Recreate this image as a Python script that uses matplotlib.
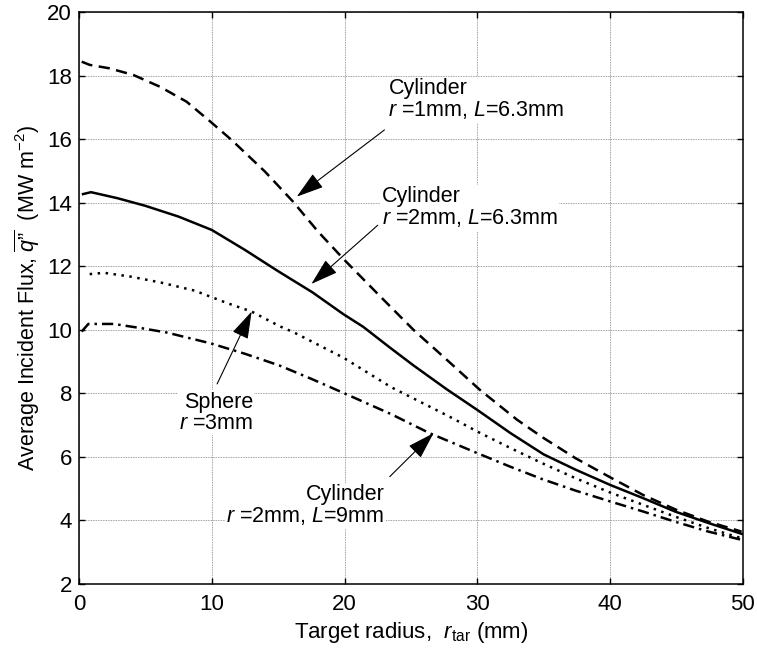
import matplotlib
matplotlib.use("Agg")
import matplotlib.pyplot as plt

# Average incident flux vs target radius for the different source geometries
plt.rcParams['font.family'] = ['Liberation Sans', 'DejaVu Sans']
plt.rcParams['mathtext.fontset'] = 'custom'
plt.rcParams['mathtext.rm'] = 'Liberation Sans'
plt.rcParams['mathtext.it'] = 'Liberation Sans:italic'

# Cylinder r=1mm, L=6.3mm (dashed)
r_cyl1 = [0.2, 0.8, 2.3, 4.1, 6.1, 8.1, 9.9, 11.5, 14.0, 16.1, 18.0, 20.0, 22.7, 25.2, 27.7,
          30.2, 33.0, 34.9, 37.4, 40.0, 42.5, 44.9, 47.4, 49.9]
q_cyl1 = [18.45, 18.35, 18.24, 18.03, 17.66, 17.19, 16.56, 15.98, 14.99, 14.05, 13.1, 12.2, 11.05, 10.0, 9.06,
          8.11, 7.17, 6.62, 5.96, 5.36, 4.8, 4.35, 3.96, 3.65]

# Cylinder r=2mm, L=6.3mm (solid)
r_cyl2 = [0.3, 0.9, 2.9, 5.0, 7.5, 10.0, 12.5, 15.0, 17.6, 19.9, 21.4, 23.4, 25.2, 27.7, 30.0,
          32.5, 35.0, 37.4, 40.0, 42.5, 44.9, 47.4, 49.9]
q_cyl2 = [14.28, 14.34, 14.15, 13.91, 13.57, 13.15, 12.52, 11.85, 11.18, 10.5, 10.1, 9.45, 8.88, 8.13, 7.48,
          6.75, 6.08, 5.6, 5.12, 4.7, 4.28, 3.92, 3.58]

# Sphere r=3mm (dotted)
r_sph = [0.8, 1.9, 3.9, 6.2, 8.7, 11.2, 13.0, 15.1, 16.2, 19.9, 23.5, 27.9, 30.0,
         32.5, 34.9, 37.4, 40.0, 42.5, 44.9, 47.4, 49.9]
q_sph = [11.76, 11.8, 11.68, 11.49, 11.24, 10.84, 10.58, 10.12, 9.92, 9.13, 8.2, 7.27, 6.8,
         6.28, 5.8, 5.33, 4.88, 4.49, 4.12, 3.76, 3.44]

# Cylinder r=2mm, L=9mm (dash-dot)
r_cyl3 = [0.2, 0.7, 2.6, 4.8, 6.6, 9.9, 12.5, 15.1, 17.5, 19.9, 23.5, 26.4, 30.0,
          32.5, 34.9, 37.4, 40.0, 42.5, 44.9, 47.4, 49.9]
q_cyl3 = [9.95, 10.19, 10.19, 10.05, 9.92, 9.58, 9.25, 8.88, 8.46, 8.02, 7.35, 6.75, 6.12,
          5.69, 5.3, 4.94, 4.6, 4.28, 3.96, 3.65, 3.39]

x_ticks = [0, 10, 20, 30, 40, 50]
y_ticks = [2, 4, 6, 8, 10, 12, 14, 16, 18, 20]

fig = plt.figure(figsize=(7.57, 6.53), dpi=100)
ax = fig.add_axes([0.1044, 0.1057, 0.877, 0.8752])

lw = 1.8
ax.plot(r_cyl1, q_cyl1, color='black', lw=lw, linestyle=(0, (4.5, 2.6)))
ax.plot(r_cyl2, q_cyl2, color='black', lw=lw, linestyle='-')
ax.plot(r_sph, q_sph, color='black', lw=lw, linestyle=(0, (1, 2.2)))
ax.plot(r_cyl3, q_cyl3, color='black', lw=lw, linestyle=(0, (4.5, 2, 1, 2)))

ax.set_xlim(0, 50)
ax.set_ylim(2, 20)
ax.set_xticks(x_ticks)
ax.set_yticks(y_ticks)
ax.tick_params(direction='in', length=4, width=1, top=True, right=True,
               labelsize=16, pad=5)
ax.tick_params(axis='x', pad=7)
ax.grid(True, color='#808080', linestyle=(0, (1, 1)), lw=0.6)
for s in ax.spines.values():
    s.set_linewidth(1.1)

ax.set_xlabel(r"Target radius,  $r_{\mathrm{tar}}$ (mm)", fontsize=16, labelpad=4)
ax.set_ylabel(r"Average Incident Flux, $\overline{q\mathrm{”}}$  (MW m$^{-2}$)", fontsize=15.5, labelpad=4)

arrow = dict(arrowstyle='-|>,head_length=0.9,head_width=0.28', color='black',
             lw=0.8, mutation_scale=19, shrinkA=0, shrinkB=0)
box = dict(facecolor='white', edgecolor='none', pad=1)

ax.text(23.3, 17.25, "Cylinder\n$r$ =1mm, $L$=6.3mm", fontsize=15.5,
        ha='left', va='center', bbox=box, linespacing=1.0)
ax.annotate("", xy=(16.4, 14.2), xytext=(23.0, 16.3), arrowprops=arrow)

ax.text(22.8, 13.85, "Cylinder\n$r$ =2mm, $L$=6.3mm", fontsize=15.5,
        ha='left', va='center', bbox=box, linespacing=1.0)
ax.annotate("", xy=(17.5, 11.45), xytext=(22.5, 13.3), arrowprops=arrow)

ax.text(13.1, 7.4, "Sphere\n$r$ =3mm", fontsize=15.5,
        ha='right', va='center', bbox=box, linespacing=1.0)
ax.annotate("", xy=(13.0, 10.58), xytext=(10.4, 8.3), arrowprops=arrow)

ax.text(23.0, 4.46, "Cylinder\n$r$ =2mm, $L$=9mm", fontsize=15.5,
        ha='right', va='center', bbox=box, linespacing=1.0)
ax.annotate("", xy=(26.7, 6.75), xytext=(23.4, 5.38), arrowprops=arrow)

fig.savefig("out.png", dpi=100)
